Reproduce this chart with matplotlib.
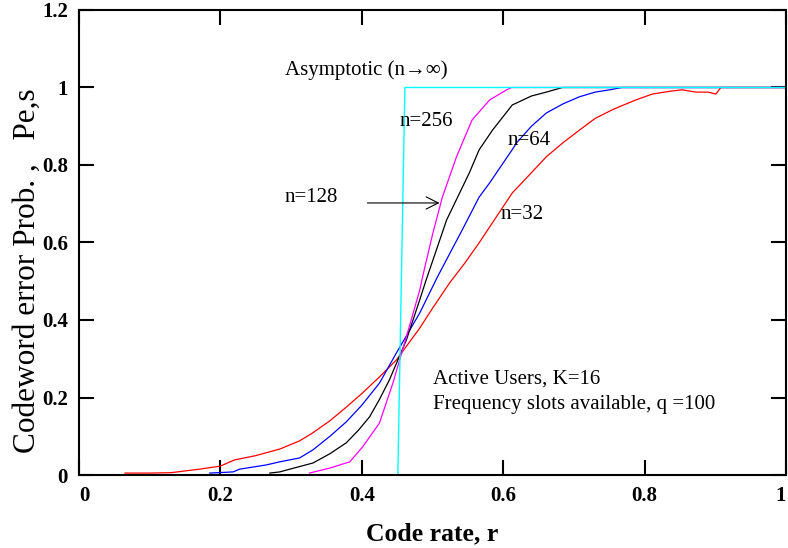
import numpy as np
import matplotlib
matplotlib.use("Agg")
import matplotlib.pyplot as plt

plt.rcParams['font.family'] = ['Liberation Serif', 'DejaVu Serif']

# asymptotic curve (n -> infinity)
x_inf = [0.451, 0.461, 1.0]
y_inf = [0.0, 1.0, 1.0]

# n=32 (red)
x_32 = [0.065, 0.10, 0.13, 0.17, 0.20, 0.22, 0.25, 0.284, 0.312, 0.33, 0.355, 0.378, 0.40,
        0.425, 0.449, 0.482, 0.50, 0.524, 0.545, 0.566, 0.59, 0.613, 0.64, 0.661, 0.685,
        0.708, 0.73, 0.754, 0.764, 0.788, 0.811, 0.835, 0.853, 0.873, 0.89, 0.901, 0.908, 1.0]
y_32 = [0.005, 0.005, 0.006, 0.015, 0.023, 0.039, 0.05, 0.067, 0.088, 0.108, 0.14, 0.175, 0.21,
        0.253, 0.297, 0.379, 0.43, 0.495, 0.545, 0.599, 0.665, 0.728, 0.78, 0.821, 0.858,
        0.89, 0.92, 0.942, 0.95, 0.968, 0.983, 0.99, 0.994, 0.988, 0.988, 0.983, 1.0, 1.0]

# n=64 (blue)
x_64 = [0.185, 0.218, 0.227, 0.265, 0.284, 0.312, 0.331, 0.355, 0.378, 0.40, 0.425, 0.449,
        0.482, 0.507, 0.542, 0.566, 0.581, 0.613, 0.619, 0.64, 0.661, 0.685, 0.708, 0.73,
        0.754, 0.768, 1.0]
y_64 = [0.005, 0.008, 0.015, 0.026, 0.034, 0.044, 0.065, 0.1, 0.137, 0.18, 0.237, 0.315,
        0.418, 0.511, 0.632, 0.717, 0.754, 0.84, 0.857, 0.90, 0.934, 0.958, 0.976, 0.988,
        0.995, 1.0, 1.0]

# n=128 (black)
x_128 = [0.27, 0.284, 0.298, 0.331, 0.355, 0.378, 0.395, 0.411, 0.425, 0.439, 0.463, 0.482,
         0.491, 0.52, 0.552, 0.566, 0.585, 0.613, 0.619, 0.64, 0.661, 0.684, 1.0]
y_128 = [0.005, 0.008, 0.015, 0.031, 0.055, 0.083, 0.115, 0.15, 0.195, 0.245, 0.348, 0.452,
         0.503, 0.658, 0.779, 0.839, 0.89, 0.955, 0.96, 0.978, 0.988, 1.0, 1.0]

# n=256 (magenta)
x_256 = [0.326, 0.355, 0.383, 0.401, 0.425, 0.444, 0.463, 0.482, 0.486, 0.50, 0.514, 0.534,
         0.556, 0.581, 0.605, 0.612, 1.0]
y_256 = [0.005, 0.018, 0.034, 0.072, 0.134, 0.237, 0.356, 0.477, 0.511, 0.62, 0.717, 0.821,
         0.916, 0.968, 0.994, 1.0, 1.0]

xticks = [0, 0.2, 0.4, 0.6, 0.8, 1]
yticks = [0, 0.2, 0.4, 0.6, 0.8, 1, 1.2]
xticklabels = ['0', '0.2', '0.4', '0.6', '0.8', '1']
yticklabels = ['0', '0.2', '0.4', '0.6', '0.8', '1', '1.2']

fig = plt.figure(figsize=(7.88, 5.48), dpi=100)
ax = fig.add_axes([0.1003, 0.1332, 0.8970, 0.8486])

ax.plot(x_32, y_32, color='red', lw=0.9)
ax.plot(x_64, y_64, color='blue', lw=0.9)
ax.plot(x_128, y_128, color='black', lw=0.9)
ax.plot(x_256, y_256, color='magenta', lw=0.9)
ax.plot(x_inf, y_inf, color='cyan', lw=1.0)

ax.set_xlim(0, 1)
ax.set_ylim(0, 1.2)
ax.set_xticks(xticks)
ax.set_xticklabels(xticklabels)
ax.set_yticks(yticks)
ax.set_yticklabels(yticklabels)
ax.tick_params(direction='in', length=11, width=1.5, top=True, right=True,
               labelsize=15, pad=8)
for lab in ax.get_xticklabels() + ax.get_yticklabels():
    lab.set_fontweight('bold')
xl = ax.get_xticklabels()
xl[0].set_ha('left')
xl[-1].set_ha('right')
for s in ax.spines.values():
    s.set_linewidth(1.5)

ax.set_xlabel('Code rate, r', fontsize=18.5, fontweight='bold', labelpad=12)
ax.set_ylabel('Codeword error Prob. ,   Pe,s', fontsize=22.5)
ax.yaxis.set_label_coords(-0.052, 0.44)

fs = 15
ax.text(0.407, 1.045, 'Asymptotic (n\u2192\u221e)', fontsize=fs, ha='center', va='center')
ax.text(0.453, 0.913, 'n=256', fontsize=fs, va='center')
ax.text(0.606, 0.862, 'n=64', fontsize=fs, va='center')
ax.text(0.291, 0.715, 'n=128', fontsize=fs, va='center')
ax.text(0.597, 0.671, 'n=32', fontsize=fs, va='center')
ax.annotate('', xy=(0.514, 0.702), xytext=(0.404, 0.702),
            arrowprops=dict(arrowstyle='->', color='black', lw=0.8, mutation_scale=22))
ax.text(0.501, 0.248, 'Active Users, K=16', fontsize=fs, va='center')
ax.text(0.501, 0.181, 'Frequency slots available, q =100', fontsize=fs, va='center')

fig.savefig('out.png', dpi=100)
